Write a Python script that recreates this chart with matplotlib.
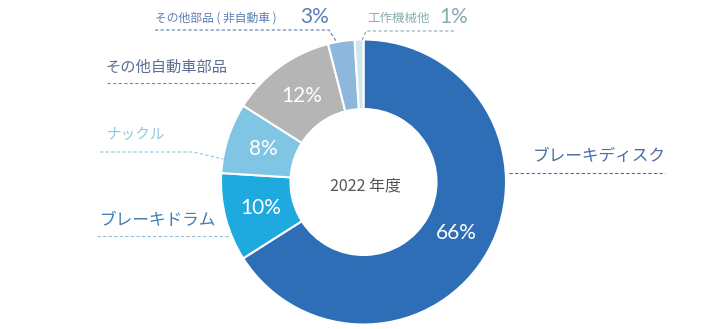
import numpy as np
import matplotlib.pyplot as plt

plt.rcParams['font.family'] = ['Noto Sans CJK JP', 'DejaVu Sans']

# 2022年度 売上構成比
labels = ['ブレーキディスク', 'ブレーキドラム', 'ナックル', 'その他自動車部品',
          'その他部品（非自動車）', '工作機械他']
shares = [66, 10, 8, 12, 3, 1]
colors = ['#2e6eb6', '#1eaadf', '#80c5e3', '#b5b5b5', '#8db8dc', '#cfe6ea']
center_title = '2022 年度'

W, H = 720, 329
fig = plt.figure(figsize=(W / 100, H / 100), dpi=100)
ax = fig.add_axes([0, 0, 1, 1])
ax.set_aspect('equal')
ax.axis('off')

cx, cy = 363.5, H - 182
r_out, r_in = 142.5, 73

wedges, _ = ax.pie(shares, colors=colors, startangle=90, counterclock=False,
                   radius=r_out, center=(cx, cy),
                   wedgeprops=dict(width=r_out - r_in, edgecolor='white', linewidth=1.5))
ax.set_xlim(0, W)
ax.set_ylim(0, H)

num_font = ['Lato', 'DejaVu Sans']

# 大きい区分だけ中に%表示
r_mid = (r_out + r_in) / 2 - 2
for w, s in zip(wedges, shares):
    if s < 5:
        continue
    ang = np.deg2rad((w.theta1 + w.theta2) / 2)
    ax.text(cx + r_mid * np.cos(ang), cy + r_mid * np.sin(ang), f'{s}%',
            ha='center', va='center', color='white', fontsize=15, family=num_font)

ax.text(cx + 2, cy - 4, center_title, ha='center', va='center', fontsize=11.5, color='#555555')


def py(y):
    return H - y


def leader(pts, color):
    xs = [p[0] for p in pts]
    ys = [py(p[1]) for p in pts]
    ax.plot(xs, ys, color=color, lw=0.8, ls=(0, (3, 2)))


# ブレーキディスク
c = '#4a6ea6'
ax.text(533, py(157), labels[0], fontsize=12, color=c, va='center')
leader([(509, 173), (665, 173)], c)

# ブレーキドラム
c = '#3f7db5'
ax.text(100, py(221), labels[1], fontsize=12, color=c, va='center')
leader([(97, 236), (229, 236)], '#8fbfdc')

# ナックル
c = '#8fc6e2'
ax.text(107, py(135), labels[2], fontsize=10.5, color=c, va='center')
leader([(100, 152), (193, 152), (223, 159)], c)

# その他自動車部品
c = '#5b6f94'
ax.text(105, py(67), labels[3], fontsize=11, color=c, va='center')
leader([(107, 83), (256, 83)], '#6e8fb8')

# その他部品（非自動車）
c = '#5a7fb3'
ax.text(155, py(18), 'その他部品 ( 非自動車 )', fontsize=8.5, color=c, va='center')
ax.text(300, py(17), f'{shares[4]}%', fontsize=15, color=c, va='center', family=num_font)
leader([(155, 30), (329, 30), (336, 41)], c)

# 工作機械他
c = '#86aeb0'
ax.text(367, py(18), labels[5], fontsize=9, color=c, va='center')
ax.text(439, py(17), f'{shares[5]}%', fontsize=15, color=c, va='center', family=num_font)
leader([(362, 40), (366, 31), (455, 31)], c)

fig.savefig('out.png', dpi=100)
